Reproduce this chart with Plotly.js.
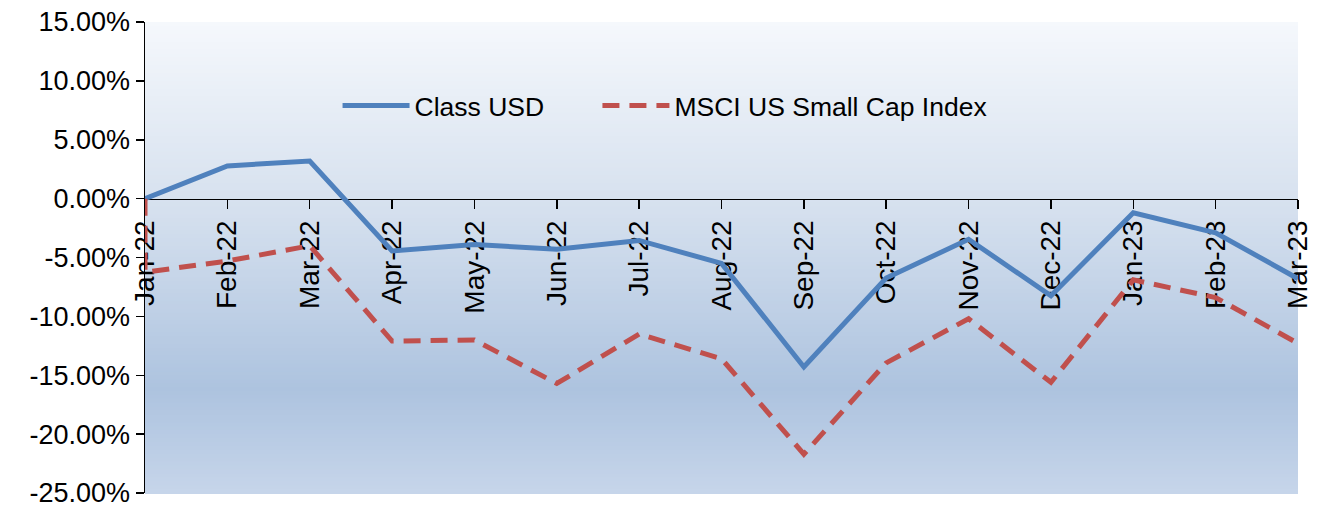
<!DOCTYPE html>
<html>
<head>
<meta charset="utf-8">
<script src="https://cdn.plot.ly/plotly-3.0.1.min.js"></script>
<style>
  html, body { margin: 0; padding: 0; background: #ffffff; }
  #chart { width: 1324px; height: 509px; }
</style>
</head>
<body>
<div id="chart"></div>
<script>
// ---- Data ----
const months = ['Jan-22','Feb-22','Mar-22','Apr-22','May-22','Jun-22','Jul-22','Aug-22','Sep-22','Oct-22','Nov-22','Dec-22','Jan-23','Feb-23','Mar-23'];
const classUSD = [0.00, 2.78, 3.20, -4.45, -3.90, -4.30, -3.55, -5.50, -14.30, -6.75, -3.45, -8.25, -1.20, -2.90, -6.80];
// MSCI series starts at 0 on Jan-22 and drops to its Jan-22 value on the same category
const msciX = ['Jan-22','Jan-22','Feb-22','Mar-22','Apr-22','May-22','Jun-22','Jul-22','Aug-22','Sep-22','Oct-22','Nov-22','Dec-22','Jan-23','Feb-23','Mar-23'];
const msciUS = [0.00, -6.25, -5.30, -4.00, -12.10, -12.00, -15.70, -11.50, -13.60, -21.70, -13.95, -10.20, -15.60, -6.90, -8.40, -12.30];
const yTicks = [-25, -20, -15, -10, -5, 0, 5, 10, 15];
const seriesNames = ['Class USD', 'MSCI US Small Cap Index'];

// ---- Background gradient (styling only) ----
function lerp(a, b, t) { return a + (b - a) * t; }
function hex(c) { return [parseInt(c.slice(1,3),16), parseInt(c.slice(3,5),16), parseInt(c.slice(5,7),16)]; }
const stops = [[0, '#f5f8fc'], [0.40, '#d5e0ee'], [0.78, '#adc3df'], [1, '#c6d5ea']];
function colorAt(t) {
  for (let i = 0; i < stops.length - 1; i++) {
    if (t >= stops[i][0] && t <= stops[i+1][0]) {
      const u = (t - stops[i][0]) / (stops[i+1][0] - stops[i][0]);
      const a = hex(stops[i][1]), b = hex(stops[i+1][1]);
      return 'rgb(' + Math.round(lerp(a[0],b[0],u)) + ',' + Math.round(lerp(a[1],b[1],u)) + ',' + Math.round(lerp(a[2],b[2],u)) + ')';
    }
  }
  return stops[stops.length-1][1];
}
const shapes = [];
const N = 120;
for (let i = 0; i < N; i++) {
  const t = (i + 0.5) / N; // from top
  shapes.push({
    type: 'rect', xref: 'paper', yref: 'paper', layer: 'below',
    x0: 0, x1: 1, y0: 1 - (i + 1) / N - 0.002, y1: 1 - i / N,
    fillcolor: colorAt(t), line: { width: 0 }
  });
}

const font = 'Liberation Sans, Arial, sans-serif';

const traces = [
  {
    type: 'scatter', mode: 'lines', name: seriesNames[0], legend: 'legend',
    x: months, y: classUSD,
    line: { color: '#4f81bd', width: 5 }
  },
  {
    type: 'scatter', mode: 'lines', name: seriesNames[1], legend: 'legend2',
    x: msciX, y: msciUS,
    line: { color: '#c0504d', width: 5, dash: '17px,10px' }
  }
];

const legendBase = {
  orientation: 'h', xanchor: 'left', y: 0.822, yanchor: 'middle',
  bgcolor: 'rgba(0,0,0,0)', font: { family: font, size: 26.5, color: '#000' },
  itemwidth: 67
};

const layout = {
  width: 1324, height: 509,
  margin: { l: 145, r: 26, t: 22, b: 16 },
  paper_bgcolor: '#ffffff',
  plot_bgcolor: 'rgba(0,0,0,0)',
  font: { family: font, size: 26, color: '#000000' },
  showlegend: true,
  legend: Object.assign({}, legendBase, { x: 0.167 }),
  legend2: Object.assign({}, legendBase, { x: 0.3924 }),
  xaxis: {
    type: 'category', categoryorder: 'array', categoryarray: months,
    range: [0, months.length - 1],
    anchor: 'free', position: 0.625,
    showline: true, linecolor: '#000', linewidth: 1.5,
    ticks: 'outside', ticklen: 9, tickcolor: '#000', tickwidth: 1.5,
    tickangle: -90, tickfont: { family: font, size: 28, color: '#000' },
    ticklabelstandoff: 0,
    showgrid: false, zeroline: false, layer: 'below traces', fixedrange: true
  },
  yaxis: {
    range: [-25, 15], tickvals: yTicks,
    ticktext: yTicks.map(v => v.toFixed(2) + '%'),
    showline: true, linecolor: '#000', linewidth: 1.5,
    ticks: 'outside', ticklen: 8, tickcolor: '#000', tickwidth: 1.5,
    tickfont: { family: font, size: 27, color: '#000' },
    ticklabeloverflow: 'allow',
    showgrid: false, zeroline: false, fixedrange: true
  },
  shapes: shapes
};

Plotly.newPlot('chart', traces, layout, { displayModeBar: false, staticPlot: true });
</script>
</body>
</html>
